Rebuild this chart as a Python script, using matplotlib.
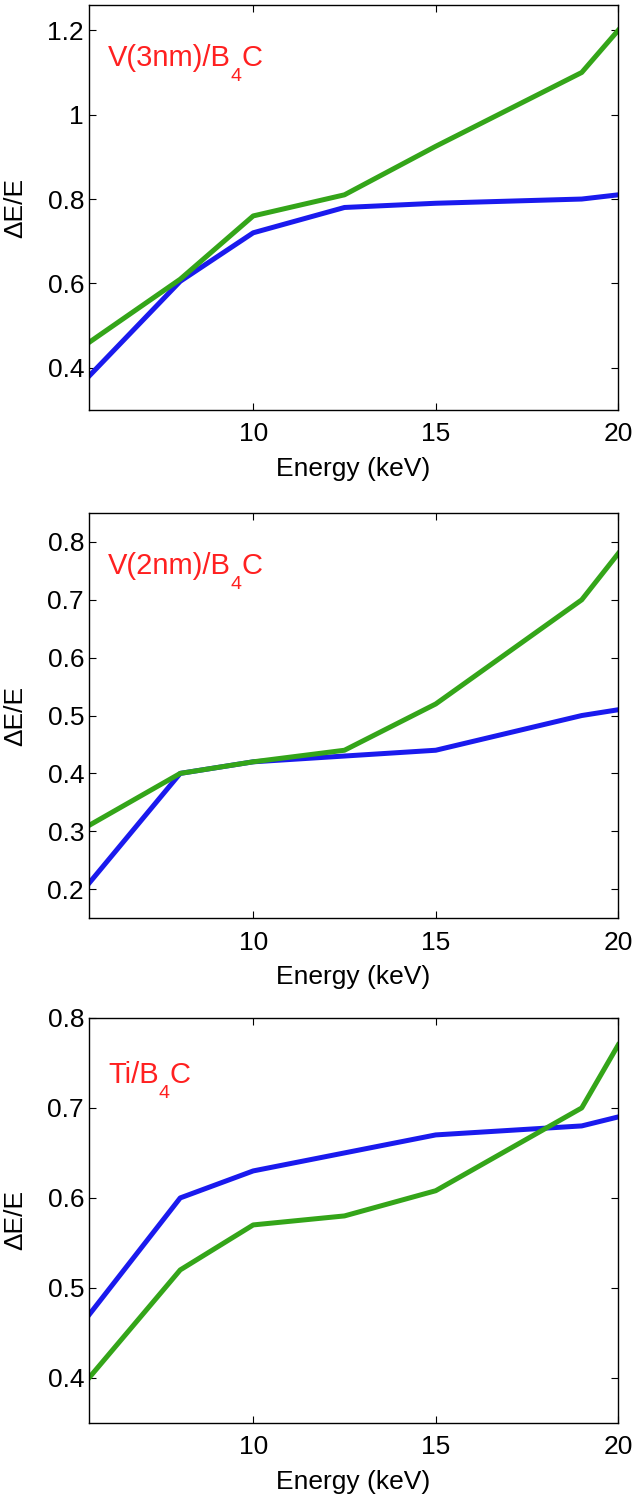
import numpy as np
import matplotlib
matplotlib.use('Agg')
from matplotlib import pyplot as plt
from matplotlib.ticker import FuncFormatter
from matplotlib.transforms import IdentityTransform

plt.rcParams['font.family'] = ['Liberation Sans', 'DejaVu Sans']

energy = [5.5, 8, 10, 12.5, 15, 19, 20]

v3_blue = [0.38, 0.605, 0.72, 0.78, 0.79, 0.80, 0.81]
v3_green = [0.46, 0.61, 0.76, 0.81, 0.925, 1.10, 1.20]

v2_blue = [0.21, 0.40, 0.42, 0.43, 0.44, 0.50, 0.51]
v2_green = [0.31, 0.40, 0.42, 0.44, 0.52, 0.70, 0.78]

ti_blue = [0.47, 0.60, 0.63, 0.65, 0.67, 0.68, 0.69]
ti_green = [0.40, 0.52, 0.57, 0.58, 0.608, 0.70, 0.77]

# label pieces: main text, subscript, tail
labels = [('V(3nm)/B', '4', 'C'), ('V(2nm)/B', '4', 'C'), ('Ti/B', '4', 'C')]
ylims = [(0.3, 1.26), (0.15, 0.85), (0.35, 0.8)]
yticks = [[0.4, 0.6, 0.8, 1.0, 1.2],
          [0.2, 0.3, 0.4, 0.5, 0.6, 0.7, 0.8],
          [0.4, 0.5, 0.6, 0.7, 0.8]]
blues = [v3_blue, v2_blue, ti_blue]
greens = [v3_green, v2_green, ti_green]

fig = plt.figure(figsize=(6.4, 15.04), dpi=100)
bottoms = [0.7274, 0.3896, 0.0539]
text_y = [0.849, 0.849, 0.84]
red = '#ff2020'

axes = []
for i in range(3):
    ax = fig.add_axes([0.139, bottoms[i], 0.827, 0.2693])
    ax.plot(energy, blues[i], color='#1a1aee', lw=3.6)
    ax.plot(energy, greens[i], color='#34a519', lw=3.6)
    ax.set_xlim(5.5, 20)
    ax.set_ylim(*ylims[i])
    ax.set_xticks([10, 15, 20])
    ax.set_yticks(yticks[i])
    ax.yaxis.set_major_formatter(FuncFormatter(lambda v, p: '%g' % v))
    ax.tick_params(direction='in', top=True, right=True, length=5, width=0.8,
                   labelsize=19)
    ax.tick_params(axis='x', pad=9)
    for s in ax.spines.values():
        s.set_linewidth(1.0)
    ax.set_xlabel('Energy (keV)', fontsize=19)
    ax.set_ylabel('ΔE/E', fontsize=19)
    ax.xaxis.set_label_coords(0.5, -0.115)
    ax.yaxis.set_label_coords(-0.117, 0.5)
    axes.append(ax)

# red material labels with a MATLAB-style dropped subscript
fig.canvas.draw()
renderer = fig.canvas.get_renderer()
for i, ax in enumerate(axes):
    main, sub, tail = labels[i]
    x0, y0 = ax.transAxes.transform((0.036, text_y[i]))
    t1 = fig.text(x0, y0, main, transform=IdentityTransform(), color=red,
                  fontsize=21, va='baseline', ha='left')
    x1 = t1.get_window_extent(renderer).x1
    t2 = fig.text(x1, y0 - 2, sub, transform=IdentityTransform(), color=red,
                  fontsize=14, va='top', ha='left')
    x2 = t2.get_window_extent(renderer).x1
    fig.text(x2, y0, tail, transform=IdentityTransform(), color=red,
             fontsize=21, va='baseline', ha='left')

fig.savefig('out.png', dpi=100)
